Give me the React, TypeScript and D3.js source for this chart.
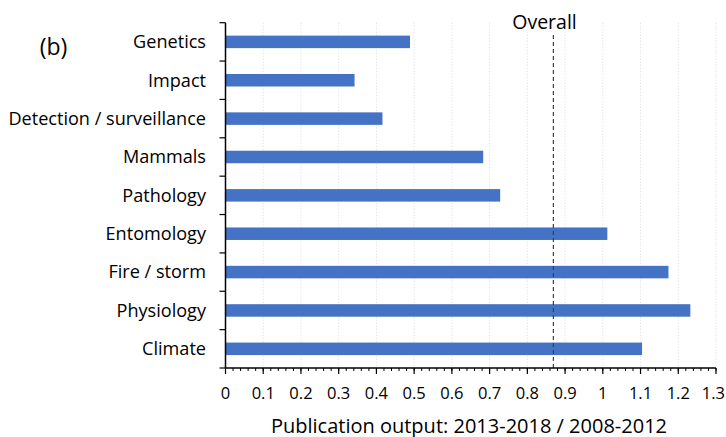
import React from "react";
import * as d3 from "d3";

const categories = ["Genetics", "Impact", "Detection / surveillance", "Mammals", "Pathology", "Entomology", "Fire / storm", "Physiology", "Climate"];
const ratios = [0.489, 0.342, 0.416, 0.683, 0.728, 1.012, 1.174, 1.232, 1.104];
const overall = 0.869;
const xTicks = [0, 0.1, 0.2, 0.3, 0.4, 0.5, 0.6, 0.7, 0.8, 0.9, 1, 1.1, 1.2, 1.3];
const minorTicks = d3.range(0, 131, 2).map((v) => v / 100);

const W = 726, H = 437;
const left = 225.5, right = 716, top = 22.7, bottom = 368;
const font = "'Open Sans', sans-serif";

export default function App() {
  const x = d3.scaleLinear().domain([0, 1.3]).range([left, right]);
  const y = d3.scaleBand().domain(categories).range([top, bottom]).paddingInner(0).paddingOuter(0);
  const bh = 12.5;
  const bounds = d3.range(categories.length + 1).map((i) => top + i * y.step());
  return (
    <svg width={W} height={H} style={{ position: "absolute", left: 0, top: 0, background: "#fff" }}>
      {xTicks.slice(1).map((t) => (
        <line key={"g" + t} x1={x(t)} x2={x(t)} y1={top} y2={bottom} stroke="#d9d9d9" strokeWidth={1} strokeDasharray="1,2" />
      ))}
      {categories.map((c, i) => (
        <rect key={c} x={x(0)} y={y(c)! + y.bandwidth() / 2 - bh / 2} width={x(ratios[i]) - x(0)} height={bh} fill="#4472C4" />
      ))}
      <line x1={x(overall)} x2={x(overall)} y1={35} y2={bottom} stroke="#404040" strokeWidth={1.2} strokeDasharray="4,3" />
      <text x={544.5} y={28.5} textAnchor="middle" fontFamily={font} fontSize={19.5} fill="#000">Overall</text>
      {/* y axis */}
      <line x1={left} x2={left} y1={top} y2={bottom} stroke="#000" strokeWidth={1.5} />
      {bounds.map((b, i) => (
        <line key={"yt" + i} x1={left - 6} x2={left} y1={b} y2={b} stroke="#000" strokeWidth={1.2} />
      ))}
      {categories.map((c) => (
        <text key={"l" + c} x={206} y={y(c)! + y.bandwidth() / 2 + 6.3} textAnchor="end" fontFamily={font} fontSize={18.1} fill="#000">{c}</text>
      ))}
      {/* x axis */}
      <line x1={left} x2={right} y1={bottom} y2={bottom} stroke="#000" strokeWidth={1.5} />
      {minorTicks.map((t) => (
        <line key={"m" + t} x1={x(t)} x2={x(t)} y1={bottom} y2={bottom + 3} stroke="#000" strokeWidth={1} />
      ))}
      {xTicks.map((t, i) => {
        const last = i === xTicks.length - 1;
        return (
          <g key={"xt" + t}>
            <line x1={x(t)} x2={x(t)} y1={bottom} y2={bottom + 6} stroke="#000" strokeWidth={1.2} />
            <text x={last ? W - 1 : x(t)} y={399} textAnchor={last ? "end" : "middle"} fontFamily={font} fontSize={16.5} fill="#000">{String(t)}</text>
          </g>
        );
      })}
      <text x={469} y={432.5} textAnchor="middle" fontFamily={font} fontSize={20} fill="#000">Publication output: 2013-2018 / 2008-2012</text>
      <text x={53.5} y={55} textAnchor="middle" fontFamily={font} fontSize={23} fill="#000">(b)</text>
    </svg>
  );
}
